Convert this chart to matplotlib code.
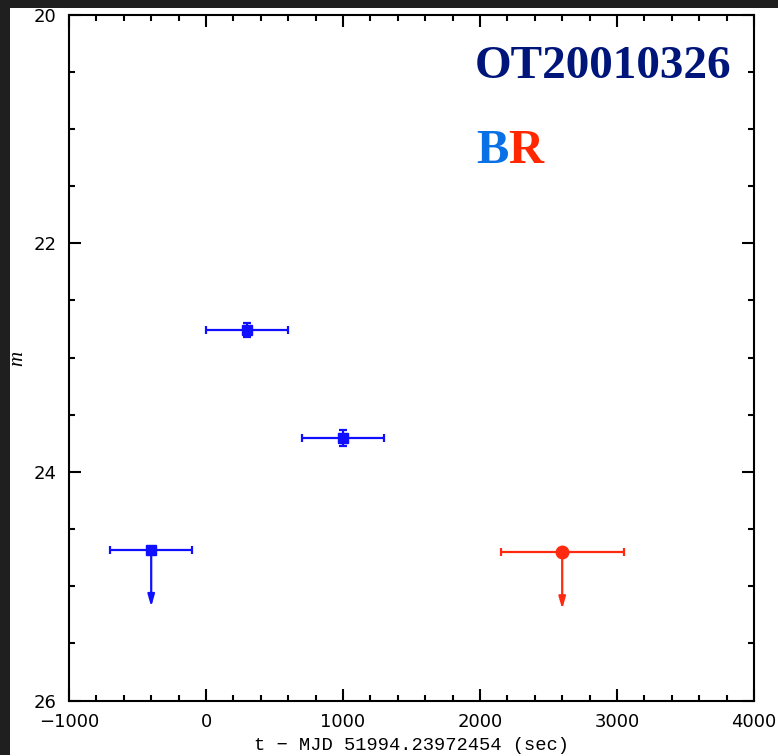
import matplotlib
matplotlib.use("Agg")
import matplotlib.pyplot as plt
from matplotlib.patches import Rectangle
from matplotlib.ticker import MultipleLocator

# B band (blue squares), first one is an upper limit
b_time = [-400, 300, 1000]
b_time_err = [300, 300, 300]
b_mag = [24.68, 22.76, 23.70]
b_mag_err = [0.0, 0.06, 0.07]
b_uplim = [True, False, False]

# R band (red circle), upper limit
r_time = [2600]
r_time_err = [450]
r_mag = [24.70]
r_mag_err = [0.0]
r_uplim = [True]

x_ticks = [-1000, 0, 1000, 2000, 3000, 4000]
y_ticks = [20, 22, 24, 26]

blue = "#1010ff"
red = "#ff2a10"

fig = plt.figure(figsize=(7.78, 7.55), dpi=100, facecolor="#1f1f1f")
# white page with a dark strip on the left and top
fig.patches.append(Rectangle((10 / 778, 0), 1, 1 - 8 / 755, transform=fig.transFigure,
                             facecolor="white", edgecolor="none", zorder=-1))

ax = fig.add_axes([69 / 778, 54.5 / 755, 685 / 778, 686 / 755])
ax.set_facecolor("white")

def draw_band(t, terr, mag, merr, uplim, color, marker, ms):
    ax.errorbar(t, mag, xerr=terr, yerr=merr, fmt=marker, color=color, ms=ms,
                elinewidth=1.6, capsize=3, capthick=1.6, zorder=3)
    for ti, mi, lim in zip(t, mag, uplim):
        if lim:
            ax.annotate("", xy=(ti, mi + 0.5), xytext=(ti, mi),
                        arrowprops=dict(arrowstyle="-|>,head_length=0.7,head_width=0.2",
                                        color=color, lw=1.6, shrinkA=0, shrinkB=0),
                        zorder=3)

draw_band(b_time, b_time_err, b_mag, b_mag_err, b_uplim, blue, "s", 6.5)
draw_band(r_time, r_time_err, r_mag, r_mag_err, r_uplim, red, "o", 9)

ax.set_xlim(-1000, 4000)
ax.set_ylim(26, 20)
ax.set_xticks(x_ticks)
ax.set_yticks(y_ticks)
ax.set_xticklabels([str(v).replace("-", "\u2212") for v in x_ticks])
ax.xaxis.set_minor_locator(MultipleLocator(200))
ax.yaxis.set_minor_locator(MultipleLocator(0.5))
ax.tick_params(which="both", direction="in", top=True, right=True, width=1.5, color="black")
ax.tick_params(which="major", length=8.5, pad=9, labelsize=13)
ax.tick_params(which="minor", length=4.5)
for lab in ax.get_xticklabels() + ax.get_yticklabels():
    lab.set_fontfamily("DejaVu Sans")
for s in ax.spines.values():
    s.set_linewidth(1.5)

ax.set_xlabel("t \u2212 MJD 51994.23972454 (sec)", family=["Liberation Mono", "DejaVu Sans Mono"],
              fontsize=13.5, labelpad=4)
fig.text(18 / 778, 1 - 358 / 755, "m", rotation=90, fontsize=15, fontstyle="italic",
         family="Liberation Serif", ha="center", va="center")

ax.text(0.592, 0.908, "OT20010326", transform=ax.transAxes, ha="left", va="baseline",
        family="Liberation Serif", fontweight="bold", fontsize=34, color="#00157a")
tb = ax.text(0.594, 0.784, "B", transform=ax.transAxes, ha="left", va="baseline",
             family="Liberation Serif", fontweight="bold", fontsize=35, color="#0a70e6")
ax.annotate("R", xy=(1, 0), xycoords=tb, ha="left", va="bottom",
            family="Liberation Serif", fontweight="bold", fontsize=35, color="#ff2800")

fig.savefig("out.png", dpi=100, facecolor=fig.get_facecolor())
